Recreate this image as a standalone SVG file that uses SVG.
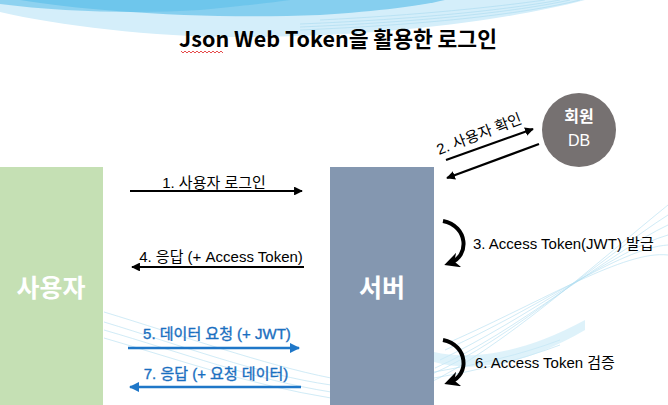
<svg xmlns="http://www.w3.org/2000/svg" width="668" height="405" viewBox="0 0 668 405">
<style>
.lbl{font-family:"Liberation Sans","Noto Sans CJK KR",sans-serif;font-size:15px;fill:#000;text-anchor:middle}
.rl{text-anchor:start}
.blue{fill:#1a6fc0;stroke:#1a6fc0;stroke-width:0.35}
.big{font-family:"Noto Sans CJK KR","Liberation Sans",sans-serif;font-size:25px;fill:#fff;text-anchor:middle;font-weight:bold}
.ar{stroke:#000;stroke-width:2.2;fill:none}
.arb{stroke:#1f77c8;stroke-width:2.6;fill:none}
.curve{stroke:#000;stroke-width:4;fill:none}
.hatch{fill:none;stroke:#9fd6ee;stroke-width:0.6}
</style>
<defs>
<marker id="ah" viewBox="0 0 10 10" refX="9" refY="5" markerWidth="4" markerHeight="4" orient="auto" markerUnits="strokeWidth"><path d="M0,0 L10,5 L0,10 Z" fill="#000"/></marker>
<marker id="ahb" viewBox="0 0 10 10" refX="9" refY="5" markerWidth="4" markerHeight="4" orient="auto" markerUnits="strokeWidth"><path d="M0,0 L10,5 L0,10 Z" fill="#1f77c8"/></marker>
<marker id="ahc" viewBox="0 0 10 10" refX="6" refY="5" markerWidth="3.8" markerHeight="3.8" orient="auto" markerUnits="strokeWidth"><path d="M0,0 L10,5 L0,10 L3,5 Z" fill="#000"/></marker>
</defs>
<rect width="668" height="405" fill="#fff"/>
<g id="background">
<path d="M0,0 L0,12 C60,26 160,38 250,37 C380,36 500,22 585,0 Z" fill="#d4eefa"/>
<path d="M20,0 C80,10 200,20 320,15 C380,11 420,6 445,0 Z" fill="#86cfef"/>
<path d="M0,0 L0,4 C60,12 140,14 200,10 C240,6 270,3 290,0 Z" fill="#5fc0ea" opacity="0.6"/>
<g class="hatch" opacity="0.8">
<path d="M300,30 C420,25 520,15 580,0"/><path d="M300,27 C420,22 515,12 570,0"/><path d="M300,24 C420,19 505,10 560,0"/><path d="M320,20 C420,15 495,7 545,0"/>
<path d="M425,385 C500,350 600,260 668,205"/><path d="M430,375 C510,340 605,255 668,215"/><path d="M435,368 C515,333 610,252 668,225"/><path d="M440,360 C525,320 615,250 668,235"/><path d="M445,350 C535,310 620,248 668,245"/><path d="M450,342 C545,300 625,250 668,255"/>
<path d="M104,322 C180,345 260,375 331,385"/><path d="M104,330 C180,352 255,380 331,392"/><path d="M104,338 C180,360 250,385 331,398"/><path d="M104,312 C180,335 265,365 331,378"/><path d="M434,378 C480,370 520,360 560,345"/><path d="M434,372 C480,364 520,355 560,340"/>
</g>
<path d="M434,362 C470,372 520,368 585,330 L585,320 C520,355 470,360 434,352 Z" fill="#c8eaf7" opacity="0.6"/>
</g>
<g id="title">
<text x="338" y="47" font-family="'Noto Sans CJK KR','Liberation Sans',sans-serif" font-size="21.5" font-weight="bold" text-anchor="middle" fill="#000">Json Web Token을 활용한 로그인</text>
<path d="M181,51 l2,2 l2,-2 l2,2 l2,-2 l2,2 l2,-2 l2,2 l2,-2 l2,2 l2,-2 l2,2 l2,-2 l2,2 l2,-2 l2,2 l2,-2 l2,2 l2,-2 l2,2 l2,-2 l2,2" fill="none" stroke="#e02020" stroke-width="0.8"/>
</g>
<g id="user">
<rect x="0" y="167" width="103" height="238" fill="#c5e0b4"/>
<text class="big" x="51" y="297">사용자</text>
</g>
<g id="server">
<rect x="330" y="167" width="104" height="238" fill="#8497b0"/>
<text class="big" x="382" y="297">서버</text>
</g>
<g id="db">
<circle cx="579" cy="130" r="37" fill="#767171"/>
<text x="579" y="122" font-family="'Noto Sans CJK KR','Liberation Sans',sans-serif" font-size="16" font-weight="bold" fill="#fff" text-anchor="middle">회원</text>
<text x="579" y="146" font-family="'Liberation Sans',sans-serif" font-size="16" fill="#fff" text-anchor="middle">DB</text>
</g>
<g id="connectors">
<line class="ar" x1="130" y1="191" x2="302" y2="191" marker-end="url(#ah)"/>
<line class="ar" x1="304" y1="267" x2="132" y2="267" marker-end="url(#ah)"/>
<line class="ar" x1="446" y1="160" x2="533" y2="129" marker-end="url(#ah)"/>
<line class="ar" x1="539" y1="144" x2="447" y2="178" marker-end="url(#ah)"/>
<line class="arb" x1="128" y1="348" x2="299" y2="348" marker-end="url(#ahb)"/>
<line class="arb" x1="301" y1="387" x2="130" y2="387" marker-end="url(#ahb)"/>
<path class="curve" d="M443,221 C468,226 470,256 450,263" marker-end="url(#ahc)"/>
<path class="curve" d="M443,340 C468,345 470,375 450,382" marker-end="url(#ahc)"/>
</g>
<g id="labels">
<text class="lbl" x="214" y="188">1. 사용자 로그인</text>
<text class="lbl" x="221" y="262">4. 응답 (+ Access Token)</text>
<text class="lbl" x="481" y="139" transform="rotate(-21 481 139)">2. 사용자 확인</text>
<text class="lbl rl" x="473" y="249">3. Access Token(JWT) 발급</text>
<text class="lbl rl" x="475" y="368">6. Access Token 검증</text>
<text class="lbl blue" x="217" y="339">5. 데이터 요청 (+ JWT)</text>
<text class="lbl blue" x="216" y="379">7. 응답 (+ 요청 데이터)</text>
</g>
</svg>
